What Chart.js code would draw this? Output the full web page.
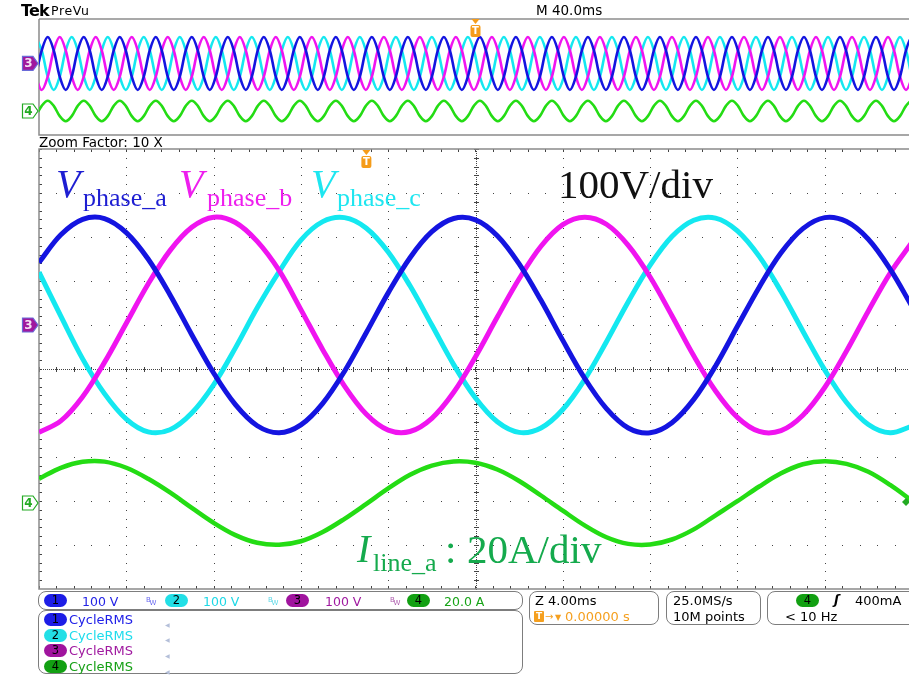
<!DOCTYPE html>
<html>
<head>
<meta charset="utf-8">
<title>Tek PreVu</title>
<script src="https://cdn.jsdelivr.net/npm/chart.js@4.4.1/dist/chart.umd.min.js"></script>
<style>
  html, body { margin: 0; padding: 0; background: #fff; overflow: hidden; }
  #screen { position: relative; width: 909px; height: 675px; overflow: hidden; font-family: "DejaVu Sans", sans-serif; }
  canvas { position: absolute; left: 0; top: 0; }
  .txt { position: absolute; white-space: nowrap; font-size: 13px; line-height: 13px; color: #000; }
  .serif { position: absolute; white-space: nowrap; font-family: "Liberation Serif", serif; }
  .box { position: absolute; box-sizing: border-box; border: 1.5px solid #7d7d7d; border-radius: 8px; }
  .badge { position: absolute; width: 23px; height: 13px; border-radius: 7px; font-size: 11.5px; line-height: 13px; text-align: center; color: #000; }
  .bw { position: absolute; font-size: 7px; line-height: 7px; }
  .arr { position: absolute; font-size: 6px; line-height: 6px; color: #b4bfd9; }
</style>
</head>
<body>
<div id="screen">
  <canvas id="overview" width="920" height="675"></canvas>
  <canvas id="mainView" width="920" height="675"></canvas>

  <!-- header -->
  <div class="txt" style="left:21px;top:3px;font-size:16px;line-height:16px;font-weight:bold;letter-spacing:-0.8px">Tek</div>
  <div class="txt" style="left:51px;top:5px;font-size:12.5px;line-height:12px;letter-spacing:0.6px">PreVu</div>
  <div class="txt" style="left:536px;top:4px;font-size:13.5px">M 40.0ms</div>
  <div class="txt" style="left:39px;top:136px;font-size:13.5px">Zoom Factor: 10 X</div>

  <!-- annotations -->
  <div class="serif" style="left:56px;top:164px;font-size:40px;line-height:40px;font-style:italic;color:#1e1ed2">V</div>
  <div class="serif" style="left:83px;top:185px;font-size:26px;line-height:26px;color:#1e1ed2">phase_a</div>
  <div class="serif" style="left:179px;top:164px;font-size:40px;line-height:40px;font-style:italic;color:#ee1eee">V</div>
  <div class="serif" style="left:207px;top:185px;font-size:26px;line-height:26px;color:#ee1eee">phase_b</div>
  <div class="serif" style="left:311px;top:164px;font-size:40px;line-height:40px;font-style:italic;color:#1ee6f0">V</div>
  <div class="serif" style="left:337px;top:185px;font-size:26px;line-height:26px;color:#1ee6f0">phase_c</div>
  <div class="serif" style="left:558px;top:164px;font-size:41px;line-height:41px;color:#111">100V/div</div>

  <div class="serif" style="left:357px;top:529px;font-size:40px;line-height:40px;font-style:italic;color:#15aa4d">I</div>
  <div class="serif" style="left:373px;top:550px;font-size:26px;line-height:26px;color:#15aa4d">line_a</div>
  <div class="serif" style="left:445px;top:529px;font-size:41px;line-height:41px;color:#15aa4d">:</div>
  <div class="serif" style="left:467px;top:529px;font-size:41px;line-height:41px;color:#15aa4d">20A/div</div>

  <!-- channel row -->
  <div class="box" style="left:38px;top:591px;width:485px;height:19px"></div>
  <div class="badge" style="left:44px;top:594px;background:#1d1de6">1</div>
  <div class="txt" style="left:82px;top:595px;font-size:12.5px;color:#2323e6">100 V</div>
  <div class="bw" style="left:146px;top:597px;color:#6b6bf0">B<span style="position:relative;top:3px;left:-1px">W</span></div>
  <div class="badge" style="left:165px;top:594px;background:#22dfe6">2</div>
  <div class="txt" style="left:203px;top:595px;font-size:12.5px;color:#1ed8e6">100 V</div>
  <div class="bw" style="left:268px;top:597px;color:#5ed8e6">B<span style="position:relative;top:3px;left:-1px">W</span></div>
  <div class="badge" style="left:286px;top:594px;background:#a0149e">3</div>
  <div class="txt" style="left:325px;top:595px;font-size:12.5px;color:#a01aa0">100 V</div>
  <div class="bw" style="left:390px;top:597px;color:#b060b0">B<span style="position:relative;top:3px;left:-1px">W</span></div>
  <div class="badge" style="left:407px;top:594px;background:#12a012">4</div>
  <div class="txt" style="left:444px;top:595px;font-size:12.5px;color:#18a418">20.0 A</div>

  <!-- measurements -->
  <div class="box" style="left:38px;top:610px;width:485px;height:64px"></div>
  <div class="badge" style="left:44px;top:613px;background:#1d1de6">1</div>
  <div class="txt" style="left:69px;top:613px;color:#2020e8">CycleRMS</div>
  <div class="arr" style="left:165px;top:622px">◀</div>
  <div class="badge" style="left:44px;top:629px;background:#22dfe6">2</div>
  <div class="txt" style="left:69px;top:629px;color:#1edcec">CycleRMS</div>
  <div class="arr" style="left:165px;top:637px">◀</div>
  <div class="badge" style="left:44px;top:644px;background:#a0149e">3</div>
  <div class="txt" style="left:69px;top:644px;color:#a01aa0">CycleRMS</div>
  <div class="arr" style="left:165px;top:653px">◀</div>
  <div class="badge" style="left:44px;top:660px;background:#12a012">4</div>
  <div class="txt" style="left:69px;top:660px;color:#16a016">CycleRMS</div>
  <div class="arr" style="left:165px;top:669px">◀</div>

  <!-- timebase -->
  <div class="box" style="left:529px;top:591px;width:130px;height:34px"></div>
  <div class="txt" style="left:535px;top:594px">Z 4.00ms</div>
  <div class="txt" style="left:534px;top:611px;width:10px;height:11px;background:#f5a020;color:#fff;font-size:9px;line-height:11px;font-weight:bold;text-align:center;border-radius:1px">T</div>
  <div class="txt" style="left:545px;top:610px;font-size:10px;color:#f5a020">→</div>
  <div class="txt" style="left:555px;top:611px;font-size:8px;color:#f5a020">▼</div>
  <div class="txt" style="left:565px;top:610px;color:#f5a020">0.00000 s</div>

  <div class="box" style="left:666px;top:591px;width:95px;height:34px"></div>
  <div class="txt" style="left:673px;top:594px">25.0MS/s</div>
  <div class="txt" style="left:673px;top:610px">10M points</div>

  <div class="box" style="left:767px;top:591px;width:170px;height:34px"></div>
  <div class="badge" style="left:796px;top:594px;background:#12a012">4</div>
  <div class="txt" style="left:834px;top:593px;font-weight:bold;font-style:italic">ʃ</div>
  <div class="txt" style="left:855px;top:594px">400mA</div>
  <div class="txt" style="left:785px;top:610px">&lt; 10 Hz</div>
</div>

<script>
// ---- zoom window (4 ms/div) ----
const timeMs = [-15, -14, -13, -12, -11, -10, -9, -8, -7, -6, -5, -4, -3, -2, -1, 0, 1, 2, 3, 4,
                5, 6, 7, 8, 9, 10, 11, 12, 13, 14, 15, 16, 17, 18, 19, 20, 21, 22, 23, 24, 25];
// phase voltages, V
const phaseA = [142, 205, 240, 242, 210, 150, 69, -22, -109, -181, -229, -245, -227, -178, -105, -17, 73, 153, 212, 242,
                239, 203, 139, 56, -35, -121, -190, -234, -245, -222, -169, -93, -3, 86, 164, 219, 244, 235, 195, 127, 42];
const phaseB = [-244, -218, -163, -85, 4, 93, 169, 222, 245, 233, 190, 124, 35, -56, -139, -203, -239, -242, -212, -153,
                -72, 18, 105, 179, 228, 245, 229, 181, 109, 21, -70, -150, -210, -242, -240, -205, -142, -59, 32, 118, 188];
const phaseC = [120, 20, -77, -156, -214, -243, -238, -200, -136, -52, 39, 121, 193, 235, 244, 220, 166, 89, 0, -90,
                -166, -220, -244, -234, -192, -124, -38, 53, 136, 201, 238, 243, 214, 156, 76, -14, -102, -176, -226, -245, -230];
// line current, A
const lineA = [11.0, 16.0, 18.7, 18.8, 16.0, 11.0, 4.8, -2.2, -9.0, -14.6, -18.1, -19.0, -17.4, -13.2, -7.2, -0.4, 6.6, 12.8, 17.0, 18.9,
               18.3, 15.2, 10.0, 3.4, -3.5, -10.2, -15.6, -18.6, -18.9, -16.6, -12.0, -5.6, 0.8, 7.5, 13.5, 17.6, 19.0, 17.8, 14.2, 8.2, 1.0];

// graticule divisions of the zoom window
const divTimes = [-15, -11, -7, -3, 1, 5, 9, 13, 17, 21, 25];
const divVolts = [-600, -500, -400, -300, -200, -100, 0, 100, 200, 300, 400];

// ---- preview strip (40 ms/div): one cycle as the strip shows it ----
const ovStartMs = -201.5;
const ovStepMs = 2.75;
const ovCycles = 25;
const ovCycleA = [-122, 122, 245, 122, -122, -245];
const ovCycleB = [-122, -245, -122, 122, 245, 122];
const ovCycleC = [245, 122, -122, -245, -122, 122];
const ovCycleI = [-9.5, 9.5, 19, 9.5, -9.5, -19];

const colA = '#1414e0', colB = '#f014f0', colC = '#14e8f0', colI = '#24dc14';

const toPoints = (vals) => timeMs.map((t, i) => ({ x: t, y: vals[i] }));
function tile(cycle) {
    let out = [];
    for (let k = 0; k < ovCycles; k++) out = out.concat(cycle);
    return out.map((v, i) => ({ x: ovStartMs + i * ovStepMs, y: v }));
}
const trace = (color, width) => ({ borderColor: color, borderWidth: width, pointRadius: 0, tension: 0.35, fill: false });

function marker(ctx, yc, label, fill, stroke, textColor) {
    ctx.save();
    ctx.beginPath();
    ctx.moveTo(22.5, yc - 7); ctx.lineTo(33, yc - 7); ctx.lineTo(38, yc);
    ctx.lineTo(33, yc + 7); ctx.lineTo(22.5, yc + 7); ctx.closePath();
    ctx.fillStyle = fill; ctx.fill();
    ctx.lineWidth = 1.2; ctx.strokeStyle = stroke; ctx.stroke();
    ctx.fillStyle = textColor;
    ctx.font = 'bold 12px "DejaVu Sans"';
    ctx.textAlign = 'center'; ctx.textBaseline = 'middle';
    ctx.fillText(label, 28.5, yc + 0.5);
    ctx.restore();
}

function trigMark(ctx, x, top) {
    ctx.save();
    ctx.fillStyle = '#f59c1a';
    ctx.beginPath();
    ctx.moveTo(x - 4, top); ctx.lineTo(x + 4, top); ctx.lineTo(x, top + 5); ctx.closePath();
    ctx.fill();
    ctx.beginPath();
    ctx.roundRect(x - 5, top + 6, 10, 12, 2);
    ctx.fill();
    ctx.fillStyle = '#fff';
    ctx.font = 'bold 10px "DejaVu Sans"';
    ctx.textAlign = 'center'; ctx.textBaseline = 'middle';
    ctx.fillText('T', x, top + 12.5);
    ctx.restore();
}

// dotted graticule, centre cross and frame ticks
const graticule = {
    id: 'graticule',
    beforeDatasetsDraw(chart) {
        const { ctx, chartArea: a, scales } = chart;
        const xs = divTimes.map(v => Math.round(scales.x.getPixelForValue(v)));
        const ys = divVolts.map(v => Math.round(scales.y.getPixelForValue(v)));
        const stepX = (scales.x.getPixelForValue(divTimes[1]) - scales.x.getPixelForValue(divTimes[0])) / 5;
        const stepY = (scales.y.getPixelForValue(divVolts[0]) - scales.y.getPixelForValue(divVolts[1])) / 5;
        ctx.save();
        ctx.fillStyle = '#444';
        for (let i = 1; i < xs.length - 1; i++) {
            if (i === 5) continue;
            for (let yy = a.top; yy <= a.bottom; yy += stepY) ctx.fillRect(xs[i], Math.round(yy), 1, 1);
        }
        for (let j = 1; j < ys.length - 1; j++) {
            if (j === 5) continue;
            for (let xx = a.left; xx <= a.right; xx += stepX) ctx.fillRect(Math.round(xx), ys[j], 1, 1);
        }
        const cx = xs[5], cy = ys[5];
        for (let yy = a.top; yy <= a.bottom; yy += 2) ctx.fillRect(cx, yy, 1, 1);
        for (let xx = a.left; xx <= a.right; xx += 2) ctx.fillRect(xx, cy, 1, 1);
        for (let yy = a.top; yy <= a.bottom; yy += stepY) ctx.fillRect(cx - 2, Math.round(yy), 5, 1);
        for (let xx = a.left; xx <= a.right; xx += stepX) ctx.fillRect(Math.round(xx), cy - 2, 1, 5);
        // frame ticks
        for (let yy = a.top; yy <= a.bottom; yy += stepY) ctx.fillRect(a.left, Math.round(yy), 3, 1);
        for (let xx = a.left; xx <= a.right; xx += stepX) {
            ctx.fillRect(Math.round(xx), a.top, 1, 3);
            ctx.fillRect(Math.round(xx), a.bottom - 3, 1, 3);
        }
        ctx.strokeStyle = '#8a8a8a';
        ctx.lineWidth = 1.5;
        ctx.strokeRect(a.left, a.top, a.right - a.left + 4, a.bottom - a.top);
        ctx.restore();
    },
    afterDraw(chart) {
        const { ctx, chartArea: a, scales } = chart;
        marker(ctx, scales.y.getPixelForValue(0), '3', '#a0189e', '#6a6ad8', '#f4e0f4');
        marker(ctx, scales.yI.getPixelForValue(0), '4', '#fff', '#22aa22', '#22aa22');
        trigMark(ctx, scales.x.getPixelForValue(0), a.top + 1);
        // channel 4 level pointer at the right edge
        const yr = scales.yI.getPixelForValue(0) - 1;
        ctx.save();
        ctx.fillStyle = '#22aa22';
        ctx.beginPath();
        ctx.moveTo(902, yr); ctx.lineTo(906, yr - 4); ctx.lineTo(910, yr); ctx.lineTo(906, yr + 4); ctx.closePath();
        ctx.fill();
        ctx.restore();
    }
};

const stripFrame = {
    id: 'stripFrame',
    beforeDatasetsDraw(chart) {
        const { ctx, chartArea: a } = chart;
        ctx.save();
        ctx.strokeStyle = '#555';
        ctx.lineWidth = 1.2;
        ctx.beginPath();
        ctx.moveTo(a.right + 4, a.top); ctx.lineTo(a.left, a.top);
        ctx.stroke();
        ctx.strokeStyle = '#8a8a8a';
        ctx.lineWidth = 1.5;
        ctx.beginPath();
        ctx.moveTo(a.left, a.top); ctx.lineTo(a.left, a.bottom); ctx.lineTo(a.right + 4, a.bottom);
        ctx.stroke();
        ctx.restore();
    },
    afterDraw(chart) {
        const { ctx, chartArea: a, scales } = chart;
        marker(ctx, scales.y.getPixelForValue(0), '3', '#a0189e', '#6a6ad8', '#f4e0f4');
        marker(ctx, scales.yI.getPixelForValue(0), '4', '#fff', '#22aa22', '#22aa22');
        trigMark(ctx, scales.x.getPixelForValue(0), a.top);
    }
};

const quiet = { legend: { display: false }, tooltip: { enabled: false } };

new Chart(document.getElementById('overview'), {
    type: 'line',
    data: {
        datasets: [
            { ...trace(colA, 2.6), data: tile(ovCycleA), yAxisID: 'y' },
            { ...trace(colB, 2.6), data: tile(ovCycleB), yAxisID: 'y' },
            { ...trace(colC, 2.6), data: tile(ovCycleC), yAxisID: 'y' },
            { ...trace(colI, 2.6), data: tile(ovCycleI), yAxisID: 'yI' }
        ]
    },
    options: {
        responsive: false, animation: false, events: [],
        layout: { padding: { left: 39, top: 19, right: 8, bottom: 540 } },
        plugins: quiet,
        scales: {
            x: { type: 'linear', display: false, min: -200, max: 200 },
            y: { display: false, min: -661, max: 411 },
            yI: { display: false, min: -44.3, max: 169.7 }
        }
    },
    plugins: [stripFrame]
});

new Chart(document.getElementById('mainView'), {
    type: 'line',
    data: {
        datasets: [
            { ...trace(colA, 5), data: toPoints(phaseA), yAxisID: 'y' },
            { ...trace(colB, 5), data: toPoints(phaseB), yAxisID: 'y' },
            { ...trace(colC, 5), data: toPoints(phaseC), yAxisID: 'y' },
            { ...trace(colI, 4.5), data: toPoints(lineA), yAxisID: 'yI' }
        ]
    },
    options: {
        responsive: false, animation: false, events: [],
        layout: { padding: { left: 39, top: 149, right: 8, bottom: 86 } },
        plugins: quiet,
        scales: {
            x: { type: 'linear', display: false, min: -15, max: 25 },
            y: { display: false, min: -600, max: 400 },
            yI: { display: false, min: -39.1, max: 160.9 }
        }
    },
    plugins: [graticule]
});
</script>
</body>
</html>
